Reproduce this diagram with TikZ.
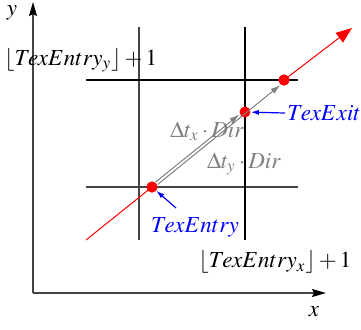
\documentclass[tikz,border=0pt]{standalone}
\usepackage{mathptmx}
\usetikzlibrary{arrows.meta, calc}
\definecolor{grisEje}{HTML}{444444}
\definecolor{grisVec}{HTML}{808080}

\begin{document}
\begin{tikzpicture}[x=0.5pt, y=-0.5pt, font=\fontsize{11.5}{14}\selectfont,
        eje/.style={grisEje, line width=0.65pt, -{Stealth[length=7pt, width=4pt, inset=1pt, black]}},
        celda/.style={grisEje, line width=0.65pt},
        borde/.style={black, line width=1.25pt},
        punto/.style={circle, fill=red, inner sep=0pt, minimum size=5.5pt},
        rayo/.style={red, line width=0.5pt},
        vec/.style={grisVec, line width=0.5pt, -{Latex[length=5pt, width=3pt]}},
        marca/.style={blue, line width=0.6pt, -{Latex[length=4pt, width=2.6pt]}},
        etq/.style={blue, inner sep=1pt}]
        \useasboundingbox (0,0) rectangle (361,329);
        % ejes
        \coordinate (o) at (33,293);
        \draw[eje] (o) -- (33,2);
        \draw[eje] (o) -- (326,293);
        \node (ly) at (12,13) {$y$};
        \node (lx) at (314,312) {$x$};
        % celdas
        \draw[celda] (86,187) -- (298,187);
        \draw[celda] (139,27) -- (139,240);
        \draw[borde] (86,80) -- (298,80);
        \draw[borde] (245,27) -- (245,240);
        \node[anchor=west, inner sep=0pt] (fy) at (4,60) {$\lfloor TexEntry_y\rfloor+1$};
        \node (fx) at (275,262) {$\lfloor TexEntry_x\rfloor+1$};
        % rayo
        \coordinate (ini) at (86,240);
        \coordinate (fin) at (352,28);
        \node[punto] (entry) at (152,187) {};
        \node[punto] (exit)  at (245,112) {};
        \node[punto] (sig)   at (284,80)  {};
        \draw[rayo] (ini) -- (entry.center);
        \draw[rayo, -{Triangle[length=8pt, width=6pt]}] (sig.center) -- (fin);
        \draw[vec, transform canvas={shift={(-0.5pt,0.62pt)}}] (entry) -- (exit);
        \draw[vec, transform canvas={shift={(0.5pt,-0.62pt)}}] (entry) -- (sig);
        \node[punto] at (entry) {};
        \node[punto] at (sig) {};
        \node[grisVec] (dx) at (207,131) {$\Delta t_x\cdot Dir$};
        \node[grisVec] (dy) at (244,164) {$\Delta t_y\cdot Dir$};
        % etiquetas
        \node[etq, anchor=west] (texit) at (285,113) {$TexExit$};
        \node[etq] (tentry) at (195,227) {$TexEntry$};
        \coordinate (pe) at (176,208);
        \draw[marca] (texit.west) -- (exit);
        \draw[marca] (pe) -- (entry);
    \end{tikzpicture}
\end{document}
